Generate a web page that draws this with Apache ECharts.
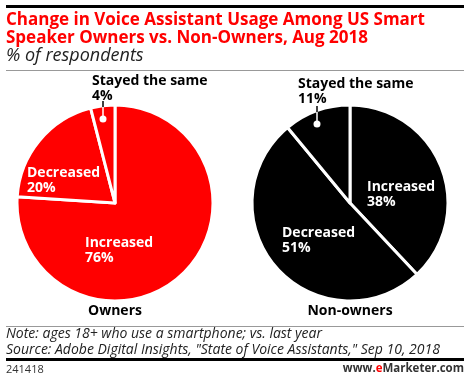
<!DOCTYPE html>
<html><head><meta charset="utf-8">
<script src="https://cdn.jsdelivr.net/npm/echarts@6/dist/echarts.min.js"></script>
<style>html,body{margin:0;padding:0;background:#fff}#c{width:470px;height:381px}</style>
</head><body><div id="c"></div>
<script>
const categories = ['Increased', 'Decreased', 'Stayed the same'];
const ownersValues = [76, 20, 4];
const nonOwnersValues = [38, 51, 11];
const groupNames = ['Owners', 'Non-owners'];
const titleText = 'Change in Voice Assistant Usage Among US Smart\nSpeaker Owners vs. Non-Owners, Aug 2018';
const subtitleText = '% of respondents';
const noteText = 'Note: ages 18+ who use a smartphone; vs. last year';
const sourceText = 'Source: Adobe Digital Insights, "State of Voice Assistants," Sep 10, 2018';
const chartId = '241418';

const FONT = 'Open Sans';
const chart = echarts.init(document.getElementById('c'), null, {renderer: 'canvas'});

// label top-left positions per series / slice
const labelPos = [
  [[85, 236], [27, 166], [92, 74]],
  [[367, 180], [282, 226], [298, 77]]
];
const colors = ['#ff0000', '#000000'];

function makeSeries(idx, values, center) {
  return {
    type: 'pie',
    center: center,
    radius: 98,
    startAngle: 90,
    clockwise: true,
    silent: true,
    animation: false,
    itemStyle: {color: colors[idx], borderColor: '#fff', borderWidth: 3},
    label: {
      show: true,
      position: 'inside',
      formatter: '{b}\n{c}%',
      fontFamily: FONT, fontWeight: 'bold', fontSize: 14, lineHeight: 15,
      color: '#fff', align: 'left'
    },
    labelLine: {show: false},
    labelLayout: function (p) {
      const pos = labelPos[idx][p.dataIndex];
      return {x: pos[0], y: pos[1], align: 'left', verticalAlign: 'top'};
    },
    data: categories.map((c, i) => ({
      name: c, value: values[i],
      label: i === 2 ? {color: '#000'} : {}
    }))
  };
}

chart.setOption({
  animation: false,
  title: [
    {text: titleText, left: 6, top: 11, padding: 0, textStyle: {fontFamily: FONT, fontWeight: 'bold', fontSize: 17, lineHeight: 18, color: '#ff0000'}},
    {text: subtitleText, left: 6, top: 47, padding: 0, textStyle: {fontFamily: FONT, fontStyle: 'italic', fontWeight: 'normal', fontSize: 18, color: '#222'}},
    {text: groupNames[0], left: 115, top: 304, padding: 0, textAlign: 'center', textStyle: {fontFamily: FONT, fontWeight: 'bold', fontSize: 14, color: '#000'}},
    {text: groupNames[1], left: 350, top: 304, padding: 0, textAlign: 'center', textStyle: {fontFamily: FONT, fontWeight: 'bold', fontSize: 14, color: '#000'}},
    {text: noteText + '\n' + sourceText, left: 6, top: 326, padding: 0, textStyle: {fontFamily: FONT, fontStyle: 'italic', fontWeight: 'normal', fontSize: 14, lineHeight: 16, color: '#222'}},
    {text: chartId, left: 6, top: 364, padding: 0, textStyle: {fontFamily: FONT, fontWeight: 'normal', fontSize: 11, color: '#333'}},
    {text: '{a|www.}{b|e}{c|Marketer}{a|.com}', right: 6, top: 363, padding: 0, textStyle: {rich: {
      a: {fontFamily: FONT, fontSize: 11.5, color: '#333'},
      b: {fontFamily: FONT, fontSize: 11.5, fontWeight: 'bold', color: '#ff0000'},
      c: {fontFamily: FONT, fontSize: 11.5, fontWeight: 'bold', color: '#333'}
    }}}
  ],
  graphic: [
    {type: 'rect', shape: {x: 6, y: 5, width: 458, height: 3}, style: {fill: '#000'}},
    {type: 'rect', shape: {x: 6, y: 70, width: 458, height: 1}, style: {fill: '#999'}},
    {type: 'rect', shape: {x: 6, y: 326, width: 458, height: 1}, style: {fill: '#999'}},
    {type: 'rect', shape: {x: 6, y: 358, width: 458, height: 3}, style: {fill: '#000'}},
    {type: 'line', z: 10, shape: {x1: 103, y1: 101, x2: 103, y2: 107}, style: {stroke: '#000', lineWidth: 1.5}},
    {type: 'line', z: 10, shape: {x1: 103, y1: 107, x2: 103, y2: 119}, style: {stroke: '#fff', lineWidth: 1.5}},
    {type: 'circle', z: 10, shape: {cx: 103, cy: 119, r: 3.5}, style: {fill: '#fff'}},
    {type: 'line', z: 10, shape: {x1: 317, y1: 106, x2: 317, y2: 112}, style: {stroke: '#000', lineWidth: 1.5}},
    {type: 'line', z: 10, shape: {x1: 317, y1: 112, x2: 317, y2: 124}, style: {stroke: '#fff', lineWidth: 1.5}},
    {type: 'circle', z: 10, shape: {cx: 317, cy: 124, r: 3.5}, style: {fill: '#fff'}}
  ],
  series: [
    makeSeries(0, ownersValues, [115, 203]),
    makeSeries(1, nonOwnersValues, [350, 203])
  ]
});
</script></body></html>
